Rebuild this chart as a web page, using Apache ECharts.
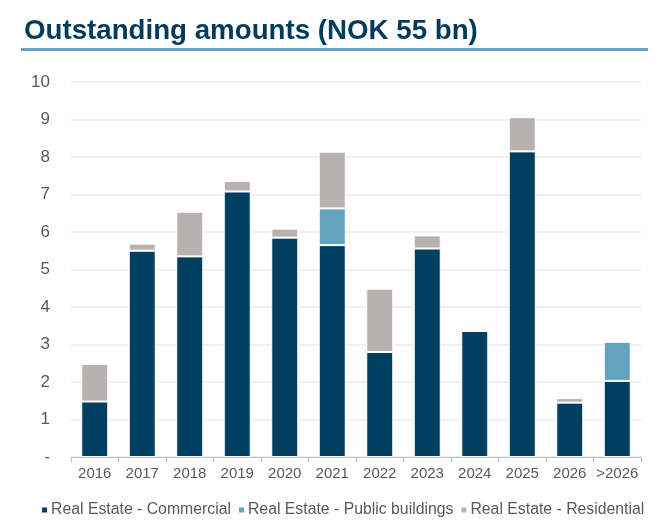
<!DOCTYPE html>
<html><head><meta charset="utf-8">
<script src="https://cdn.jsdelivr.net/npm/echarts@6/dist/echarts.min.js"></script>
<style>html,body{margin:0;padding:0;background:#fff}#c{width:663px;height:531px}</style>
</head><body><div id="c"></div>
<script>
const categories = ['2016','2017','2018','2019','2020','2021','2022','2023','2024','2025','2026','>2026'];
const commercial = [1.48, 5.50, 5.35, 7.08, 5.85, 5.65, 2.80, 5.56, 3.36, 8.15, 1.45, 2.03];
const publicBuildings = [0, 0, 0, 0, 0, 0.98, 0, 0, 0, 0, 0, 1.04];
const residential = [1.00, 0.19, 1.19, 0.28, 0.24, 1.51, 1.69, 0.35, 0, 0.91, 0.12, 0];
const yTicks = ['-','1','2','3','4','5','6','7','8','9','10'];

const chart = echarts.init(document.getElementById('c'));
const itemBorder = {borderColor:'#ffffff', borderWidth:1};
const mk = (name, data, color) => ({
  name, type:'bar', stack:'t', data: data.map(v => v === 0 ? null : v), barWidth:27,
  itemStyle:Object.assign({color}, itemBorder)
});
chart.setOption({
  animation:false,
  title:{text:'Outstanding amounts (NOK 55 bn)', left:19, top:12,
    textStyle:{fontFamily:'Liberation Sans', fontWeight:'bold', fontSize:27.7, color:'#003A5C'}},
  graphic:[{type:'rect', shape:{x:21, y:48, width:627, height:3}, style:{fill:'#6AA3C1'}}],
  legend:{left:40, top:502, padding:0, itemWidth:7, itemHeight:7, itemGap:6, icon:'rect',
    textStyle:{fontFamily:'Liberation Sans', fontSize:15.8, color:'#595959', padding:[0,0,0,-2]},
    data:['Real Estate - Commercial','Real Estate - Public buildings','Real Estate - Residential']},
  grid:{left:71, right:22, top:82, bottom:74},
  xAxis:{type:'category', data:categories,
    axisLine:{lineStyle:{color:'#BFBFBF', width:1}},
    axisTick:{show:true, length:5, lineStyle:{color:'#BFBFBF'}},
    axisLabel:{interval:0, fontFamily:'Liberation Sans', fontSize:15, color:'#595959', margin:9}},
  yAxis:{type:'value', min:0, max:10, interval:1,
    axisLine:{show:false}, axisTick:{show:false},
    splitLine:{lineStyle:{color:'#EBEBEB', width:1.5}},
    axisLabel:{fontFamily:'Liberation Sans', fontSize:17, color:'#595959', margin:21,
      formatter:v => yTicks[Math.round(v)]}},
  series:[
    mk('Real Estate - Commercial', commercial, '#003F60'),
    mk('Real Estate - Public buildings', publicBuildings, '#63A3C0'),
    mk('Real Estate - Residential', residential, '#B9B1B0')
  ]
});
</script></body></html>
